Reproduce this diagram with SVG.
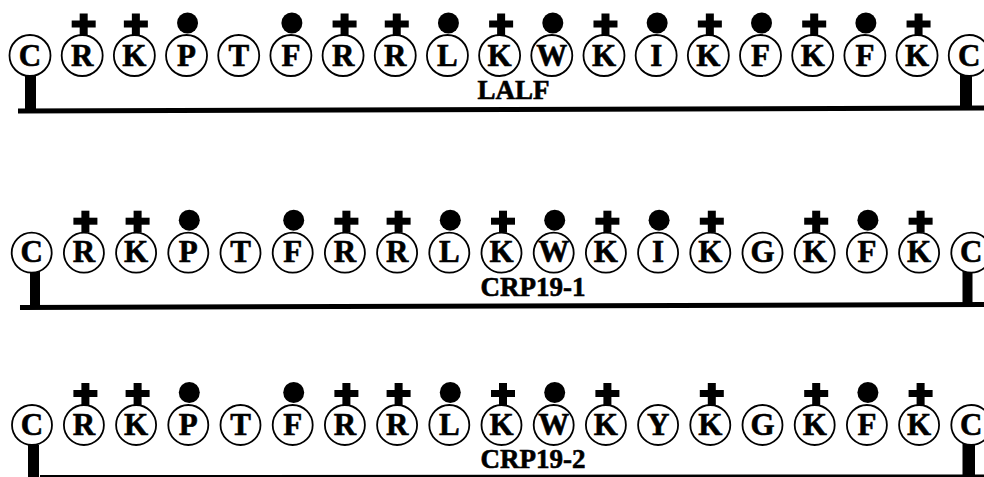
<svg xmlns="http://www.w3.org/2000/svg" xmlns:xlink="http://www.w3.org/1999/xlink" width="984" height="477" viewBox="0 0 984 477" font-family="Liberation Serif, serif" font-weight="bold">
<style>
.ring{fill:#fff;stroke:#000;stroke-width:1.8}
.aa{font-size:31px;text-anchor:middle;fill:#000;stroke:#000;stroke-width:0.6}
.lbl{font-size:27px;text-anchor:middle;fill:#000;stroke:#000;stroke-width:0.6}
.bar{fill:#000}
.ln{stroke:#000;fill:none}
</style>
<defs>
<g id="plus"><rect x="-2.5" y="-42" width="8" height="22"/><rect x="-10.5" y="-35" width="24" height="7"/></g>
<circle id="dot" cx="1" cy="-32.5" r="10.5"/>
</defs>
<rect width="984" height="477" fill="#fff"/>
<g id="connectors">
<rect class="bar" x="25" y="76" width="11" height="34"/>
<rect class="bar" x="960" y="74" width="12" height="35"/>
<line class="ln" x1="18" y1="111" x2="984" y2="108" stroke-width="5"/>
<rect class="bar" x="30" y="272" width="10" height="35"/>
<rect class="bar" x="962.5" y="270" width="10" height="34"/>
<line class="ln" x1="20" y1="307.5" x2="984" y2="304.5" stroke-width="5"/>
<rect class="bar" x="28" y="445" width="11" height="32"/>
<rect class="bar" x="962.5" y="443" width="12.5" height="34"/>
<line class="ln" x1="40" y1="476.5" x2="984" y2="476" stroke-width="3"/>
</g>
<g id="labels" font-family="Liberation Serif, serif">
<text class="lbl" x="513.5" y="99">LALF</text>
<text class="lbl" x="533" y="296">CRP19-1</text>
<text class="lbl" x="533" y="468">CRP19-2</text>
</g>
<g id="row1" font-family="Liberation Serif, serif">
<g id="r1n0" transform="translate(30,55.5)"><circle class="ring" r="20.5"/><text class="aa" y="10">C</text></g>
<g id="r1n1" transform="translate(82.18,55.5)"><use xlink:href="#plus"/><circle class="ring" r="20.5"/><text class="aa" y="10">R</text></g>
<g id="r1n2" transform="translate(134.36,55.5)"><use xlink:href="#plus"/><circle class="ring" r="20.5"/><text class="aa" y="10">K</text></g>
<g id="r1n3" transform="translate(186.54,55.5)"><use xlink:href="#dot"/><circle class="ring" r="20.5"/><text class="aa" y="10">P</text></g>
<g id="r1n4" transform="translate(238.72,55.5)"><circle class="ring" r="20.5"/><text class="aa" y="10">T</text></g>
<g id="r1n5" transform="translate(290.9,55.5)"><use xlink:href="#dot"/><circle class="ring" r="20.5"/><text class="aa" y="10">F</text></g>
<g id="r1n6" transform="translate(343.08,55.5)"><use xlink:href="#plus"/><circle class="ring" r="20.5"/><text class="aa" y="10">R</text></g>
<g id="r1n7" transform="translate(395.26,55.5)"><use xlink:href="#plus"/><circle class="ring" r="20.5"/><text class="aa" y="10">R</text></g>
<g id="r1n8" transform="translate(447.44,55.5)"><use xlink:href="#dot"/><circle class="ring" r="20.5"/><text class="aa" y="10">L</text></g>
<g id="r1n9" transform="translate(499.62,55.5)"><use xlink:href="#plus"/><circle class="ring" r="20.5"/><text class="aa" y="10">K</text></g>
<g id="r1n10" transform="translate(551.8,55.5)"><use xlink:href="#dot"/><circle class="ring" r="20.5"/><text class="aa" y="10">W</text></g>
<g id="r1n11" transform="translate(603.98,55.5)"><use xlink:href="#plus"/><circle class="ring" r="20.5"/><text class="aa" y="10">K</text></g>
<g id="r1n12" transform="translate(656.16,55.5)"><use xlink:href="#dot"/><circle class="ring" r="20.5"/><text class="aa" y="10">I</text></g>
<g id="r1n13" transform="translate(708.34,55.5)"><use xlink:href="#plus"/><circle class="ring" r="20.5"/><text class="aa" y="10">K</text></g>
<g id="r1n14" transform="translate(760.52,55.5)"><use xlink:href="#dot"/><circle class="ring" r="20.5"/><text class="aa" y="10">F</text></g>
<g id="r1n15" transform="translate(812.7,55.5)"><use xlink:href="#plus"/><circle class="ring" r="20.5"/><text class="aa" y="10">K</text></g>
<g id="r1n16" transform="translate(864.88,55.5)"><use xlink:href="#dot"/><circle class="ring" r="20.5"/><text class="aa" y="10">F</text></g>
<g id="r1n17" transform="translate(917.06,55.5)"><use xlink:href="#plus"/><circle class="ring" r="20.5"/><text class="aa" y="10">K</text></g>
<g id="r1n18" transform="translate(969.24,55.5)"><circle class="ring" r="20.5"/><text class="aa" y="10">C</text></g>
</g>
<g id="row2" font-family="Liberation Serif, serif">
<g id="r2n0" transform="translate(31.7,252.7)"><circle class="ring" r="20"/><text class="aa" y="9.5">C</text></g>
<g id="r2n1" transform="translate(83.9,252.7)"><use xlink:href="#plus"/><circle class="ring" r="20"/><text class="aa" y="9.5">R</text></g>
<g id="r2n2" transform="translate(136.1,252.7)"><use xlink:href="#plus"/><circle class="ring" r="20"/><text class="aa" y="9.5">K</text></g>
<g id="r2n3" transform="translate(188.3,252.7)"><use xlink:href="#dot"/><circle class="ring" r="20"/><text class="aa" y="9.5">P</text></g>
<g id="r2n4" transform="translate(240.5,252.7)"><circle class="ring" r="20"/><text class="aa" y="9.5">T</text></g>
<g id="r2n5" transform="translate(292.7,252.7)"><use xlink:href="#dot"/><circle class="ring" r="20"/><text class="aa" y="9.5">F</text></g>
<g id="r2n6" transform="translate(344.9,252.7)"><use xlink:href="#plus"/><circle class="ring" r="20"/><text class="aa" y="9.5">R</text></g>
<g id="r2n7" transform="translate(397.1,252.7)"><use xlink:href="#plus"/><circle class="ring" r="20"/><text class="aa" y="9.5">R</text></g>
<g id="r2n8" transform="translate(449.3,252.7)"><use xlink:href="#dot"/><circle class="ring" r="20"/><text class="aa" y="9.5">L</text></g>
<g id="r2n9" transform="translate(501.5,252.7)"><use xlink:href="#plus"/><circle class="ring" r="20"/><text class="aa" y="9.5">K</text></g>
<g id="r2n10" transform="translate(553.7,252.7)"><use xlink:href="#dot"/><circle class="ring" r="20"/><text class="aa" y="9.5">W</text></g>
<g id="r2n11" transform="translate(605.9,252.7)"><use xlink:href="#plus"/><circle class="ring" r="20"/><text class="aa" y="9.5">K</text></g>
<g id="r2n12" transform="translate(658.1,252.7)"><use xlink:href="#dot"/><circle class="ring" r="20"/><text class="aa" y="9.5">I</text></g>
<g id="r2n13" transform="translate(710.3,252.7)"><use xlink:href="#plus"/><circle class="ring" r="20"/><text class="aa" y="9.5">K</text></g>
<g id="r2n14" transform="translate(762.5,252.7)"><circle class="ring" r="20"/><text class="aa" y="9.5">G</text></g>
<g id="r2n15" transform="translate(814.7,252.7)"><use xlink:href="#plus"/><circle class="ring" r="20"/><text class="aa" y="9.5">K</text></g>
<g id="r2n16" transform="translate(866.9,252.7)"><use xlink:href="#dot"/><circle class="ring" r="20"/><text class="aa" y="9.5">F</text></g>
<g id="r2n17" transform="translate(919.1,252.7)"><use xlink:href="#plus"/><circle class="ring" r="20"/><text class="aa" y="9.5">K</text></g>
<g id="r2n18" transform="translate(971.3,252.7)"><circle class="ring" r="20"/><text class="aa" y="9.5">C</text></g>
</g>
<g id="row3" font-family="Liberation Serif, serif">
<g id="r3n0" transform="translate(32,425)"><circle class="ring" r="20"/><text class="aa" y="9.5">C</text></g>
<g id="r3n1" transform="translate(83.9,425)"><use xlink:href="#plus"/><circle class="ring" r="20"/><text class="aa" y="9.5">R</text></g>
<g id="r3n2" transform="translate(136.1,425)"><use xlink:href="#plus"/><circle class="ring" r="20"/><text class="aa" y="9.5">K</text></g>
<g id="r3n3" transform="translate(188.3,425)"><use xlink:href="#dot"/><circle class="ring" r="20"/><text class="aa" y="9.5">P</text></g>
<g id="r3n4" transform="translate(240.5,425)"><circle class="ring" r="20"/><text class="aa" y="9.5">T</text></g>
<g id="r3n5" transform="translate(292.7,425)"><use xlink:href="#dot"/><circle class="ring" r="20"/><text class="aa" y="9.5">F</text></g>
<g id="r3n6" transform="translate(344.9,425)"><use xlink:href="#plus"/><circle class="ring" r="20"/><text class="aa" y="9.5">R</text></g>
<g id="r3n7" transform="translate(397.1,425)"><use xlink:href="#plus"/><circle class="ring" r="20"/><text class="aa" y="9.5">R</text></g>
<g id="r3n8" transform="translate(449.3,425)"><use xlink:href="#dot"/><circle class="ring" r="20"/><text class="aa" y="9.5">L</text></g>
<g id="r3n9" transform="translate(501.5,425)"><use xlink:href="#plus"/><circle class="ring" r="20"/><text class="aa" y="9.5">K</text></g>
<g id="r3n10" transform="translate(553.7,425)"><use xlink:href="#dot"/><circle class="ring" r="20"/><text class="aa" y="9.5">W</text></g>
<g id="r3n11" transform="translate(605.9,425)"><use xlink:href="#plus"/><circle class="ring" r="20"/><text class="aa" y="9.5">K</text></g>
<g id="r3n12" transform="translate(658.1,425)"><circle class="ring" r="20"/><text class="aa" y="9.5">Y</text></g>
<g id="r3n13" transform="translate(710.3,425)"><use xlink:href="#plus"/><circle class="ring" r="20"/><text class="aa" y="9.5">K</text></g>
<g id="r3n14" transform="translate(762.5,425)"><circle class="ring" r="20"/><text class="aa" y="9.5">G</text></g>
<g id="r3n15" transform="translate(814.7,425)"><use xlink:href="#plus"/><circle class="ring" r="20"/><text class="aa" y="9.5">K</text></g>
<g id="r3n16" transform="translate(866.9,425)"><use xlink:href="#dot"/><circle class="ring" r="20"/><text class="aa" y="9.5">F</text></g>
<g id="r3n17" transform="translate(919.1,425)"><use xlink:href="#plus"/><circle class="ring" r="20"/><text class="aa" y="9.5">K</text></g>
<g id="r3n18" transform="translate(971.3,425)"><circle class="ring" r="20"/><text class="aa" y="9.5">C</text></g>
</g>
</svg>
